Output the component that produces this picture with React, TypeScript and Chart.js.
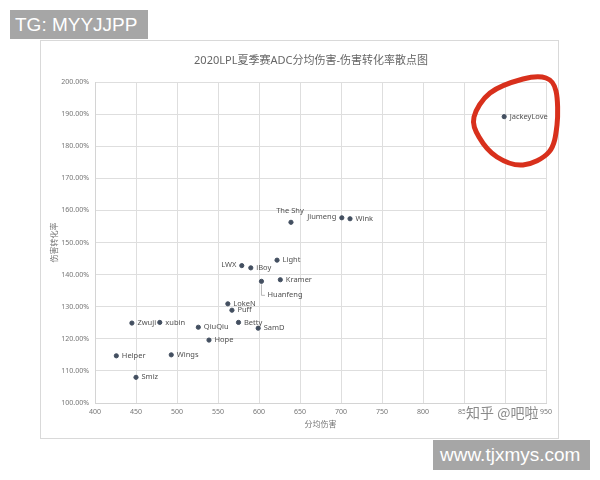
import React, { useEffect, useRef } from "react";
import { Chart, registerables } from "chart.js";

Chart.register(...registerables);

const players = ["JackeyLove", "The Shy", "Jiumeng", "Wink", "Light", "LWX", "iBoy", "Kramer", "Huanfeng", "LokeN", "Puff", "Betty", "SamD", "QiuQiu", "Hope", "Zwuji", "xubin", "Helper", "Wings", "Smiz"];
const avgDamage = [899, 639, 701, 711, 622, 579, 590, 626, 603, 562, 567, 575, 599, 526, 539, 445, 479, 426, 493, 450];
const conversionRate = [189.2, 156.3, 157.7, 157.4, 144.5, 142.8, 142.1, 138.4, 137.9, 130.9, 128.9, 125.1, 123.3, 123.6, 119.6, 124.9, 125.1, 114.7, 115.0, 108.0];
const labelSide = ["r", "t", "l", "r", "r", "l", "r", "r", "leader", "r", "r", "r", "r", "r", "r", "r", "r", "r", "r", "r"];

const titleText = "2020LPL夏季赛ADC分均伤害-伤害转化率散点图";
const xTitle = "分均伤害";
const yTitle = "伤害转化率";
const xMin = 400, xMax = 950, xStep = 50;
const yMin = 100, yMax = 200, yStep = 10;

const FONT = '"Noto Sans", "Noto Sans CJK SC", sans-serif';

const decorPlugin = {
  id: "decor",
  beforeDraw(chart: any) {
    const ctx = chart.ctx;
    ctx.save();
    ctx.fillStyle = "#ffffff";
    ctx.fillRect(0, 0, chart.width, chart.height);
    ctx.strokeStyle = "#d9d9d9";
    ctx.lineWidth = 1;
    ctx.strokeRect(40.5, 40.5, 518, 398);
    ctx.restore();
  },
  afterDraw(chart: any) {
    const ctx = chart.ctx;
    const area = chart.chartArea;
    ctx.save();
    // title
    ctx.fillStyle = "#666666";
    ctx.font = `11px ${FONT}`;
    ctx.textAlign = "center";
    ctx.textBaseline = "middle";
    ctx.fillText(titleText, 311, 61);
    // axis titles
    ctx.font = `8px ${FONT}`;
    ctx.fillStyle = "#757575";
    ctx.fillText(xTitle, (area.left + area.right) / 2, 425);
    ctx.save();
    ctx.translate(55, (area.top + area.bottom) / 2);
    ctx.rotate(-Math.PI / 2);
    ctx.fillText(yTitle, 0, 0);
    ctx.restore();

    // point labels
    const meta = chart.getDatasetMeta(0);
    ctx.font = `7.5px ${FONT}`;
    ctx.fillStyle = "#505050";
    meta.data.forEach((pt: any, i: number) => {
      const side = labelSide[i];
      const name = players[i];
      const x = pt.x, y = pt.y;
      if (side === "r") {
        ctx.textAlign = "left";
        ctx.fillText(name, x + 5.5, y);
      } else if (side === "l") {
        ctx.textAlign = "right";
        ctx.fillText(name, x - 5.5, y - 1);
      } else if (side === "t") {
        ctx.textAlign = "center";
        ctx.fillText(name, x - 1, y - 11.5);
      } else if (side === "leader") {
        ctx.strokeStyle = "#a6a6a6";
        ctx.lineWidth = 0.8;
        ctx.beginPath();
        ctx.moveTo(x, y + 3);
        ctx.lineTo(x, y + 14);
        ctx.lineTo(x + 3.5, y + 14);
        ctx.stroke();
        ctx.textAlign = "left";
        ctx.fillText(name, x + 6, y + 14);
      }
    });

    // red hand-drawn circle
    const pts = [[474, 117], [490, 93], [523, 79], [546, 78], [556, 91], [557, 125], [549, 152], [523, 165], [497, 157], [479, 137]];
    ctx.strokeStyle = "#d8301c";
    ctx.lineWidth = 5;
    ctx.lineJoin = "round";
    ctx.beginPath();
    const n = pts.length;
    ctx.moveTo(pts[0][0], pts[0][1]);
    for (let i = 0; i < n; i++) {
      const p0 = pts[(i - 1 + n) % n], p1 = pts[i], p2 = pts[(i + 1) % n], p3 = pts[(i + 2) % n];
      const c1x = p1[0] + (p2[0] - p0[0]) / 6, c1y = p1[1] + (p2[1] - p0[1]) / 6;
      const c2x = p2[0] - (p3[0] - p1[0]) / 6, c2y = p2[1] - (p3[1] - p1[1]) / 6;
      ctx.bezierCurveTo(c1x, c1y, c2x, c2y, p2[0], p2[1]);
    }
    ctx.closePath();
    ctx.stroke();

    // zhihu watermark
    ctx.font = `14px "Noto Sans CJK SC", sans-serif`;
    ctx.textAlign = "left";
    ctx.textBaseline = "middle";
    ctx.lineWidth = 3;
    ctx.strokeStyle = "rgba(255,255,255,0.9)";
    ctx.strokeText("知乎 @吧啦", 466, 413);
    ctx.fillStyle = "#8a8a8a";
    ctx.fillText("知乎 @吧啦", 466, 413);
    ctx.restore();
  },
};

export default function App() {
  const ref = useRef<HTMLCanvasElement | null>(null);
  useEffect(() => {
    if (!ref.current) return;
    const chart = new Chart(ref.current, {
      type: "scatter",
      data: {
        datasets: [
          {
            label: "ADC",
            data: avgDamage.map((x, i) => ({ x, y: conversionRate[i] })),
            backgroundColor: "#434f60",
            borderColor: "#434f60",
            pointRadius: 2.1,
            pointHoverRadius: 2.1,
          },
        ],
      },
      options: {
        animation: false,
        responsive: false,
        devicePixelRatio: 1,
        layout: { padding: { left: 40, right: 54, top: 82, bottom: 47 } },
        plugins: {
          legend: { display: false },
          title: { display: false },
          tooltip: { enabled: false },
        },
        scales: {
          x: {
            type: "linear",
            min: xMin,
            max: xMax,
            afterFit: (s: any) => { s.height = 30; },
            ticks: {
              stepSize: xStep,
              padding: 5,
              color: "#757575",
              font: { size: 7, family: FONT },
              maxRotation: 0,
            },
            grid: { color: "#dedede", drawTicks: false, lineWidth: 1 },
            border: { color: "#d4d4d4" },
          },
          y: {
            type: "linear",
            min: yMin,
            max: yMax,
            afterFit: (s: any) => { s.width = 55; },
            ticks: {
              stepSize: yStep,
              padding: 6,
              color: "#757575",
              font: { size: 7, family: FONT },
              callback: (v: any) => Number(v).toFixed(2) + "%",
            },
            grid: { color: "#dedede", drawTicks: false, lineWidth: 1 },
            border: { color: "#d4d4d4" },
          },
        },
      },
      plugins: [decorPlugin],
    });
    return () => chart.destroy();
  }, []);

  const box: React.CSSProperties = {
    position: "absolute",
    background: "#a6a6a6",
    color: "#ffffff",
    fontFamily: '"Liberation Sans", Arial, sans-serif',
    fontSize: 19,
    lineHeight: "29px",
    whiteSpace: "nowrap",
  };

  return (
    <div style={{ position: "fixed", left: 0, top: 0, width: 600, height: 480, background: "#fff", overflow: "hidden" }}>
      <canvas ref={ref} width={600} height={480} style={{ position: "absolute", left: 0, top: 0, width: 600, height: 480 }} />
      <div style={{ ...box, left: 10, top: 10, width: 138, height: 29, paddingLeft: 5, boxSizing: "border-box" }}>TG: MYYJJPP</div>
      <div style={{ ...box, left: 433, top: 440, width: 157, height: 30, lineHeight: "30px", paddingLeft: 7, boxSizing: "border-box" }}>www.tjxmys.com</div>
    </div>
  );
}
